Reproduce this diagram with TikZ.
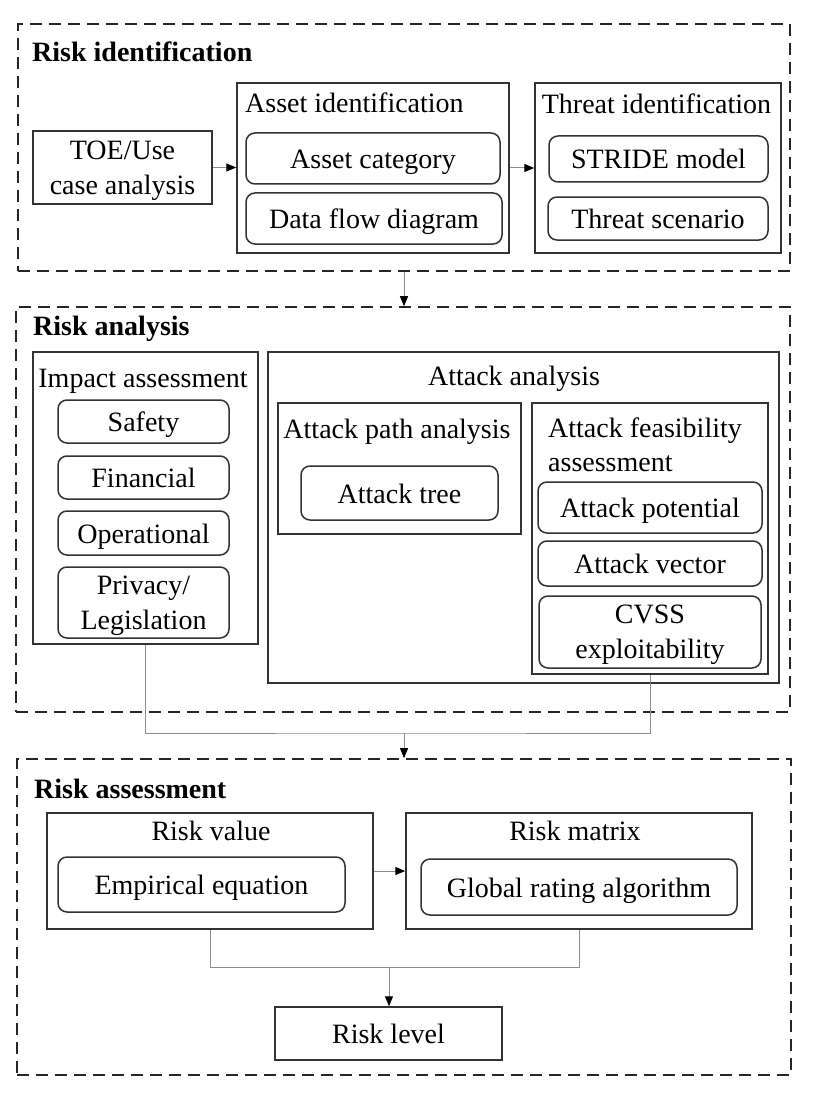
\documentclass[tikz,border=0pt]{standalone}
\usepackage{fontspec}
\setmainfont{Liberation Serif}
\usetikzlibrary{arrows.meta}
\begin{document}
\begin{tikzpicture}[x=1pt,y=-1pt,
  every node/.style={font=\fontsize{28}{35}\selectfont, inner sep=0pt},
  sect/.style={draw=black!85, line width=1.6pt, dash pattern=on 12pt off 7pt},
  cont/.style={draw=black!80, line width=1.5pt, align=center},
  item/.style={draw=black!80, line width=1.5pt, rounded corners=9pt, align=center},
  one/.style={text height=20pt, text depth=0pt},
  two/.style={text depth=0pt},
  ttl/.style={font=\fontsize{28}{35}\selectfont\bfseries, anchor=base west},
  lbl/.style={anchor=base},
  lblw/.style={anchor=base west},
  conn/.style={draw=black!45, line width=1pt},
  arr/.style={conn, -{Triangle[length=10pt,width=8pt,color=black]}}
]
\fill[white] (0,0) rectangle (826,1094);
\useasboundingbox (0,0) rectangle (826,1094);

% ---------- Section 1 ----------
\node[sect, minimum width=772pt, minimum height=247pt] (s1) at (404,147.5) {};
\node[ttl] (t1) at (32,62) {Risk identification};
\node[cont, two, minimum width=179pt, minimum height=73pt] (toe) at (122.5,167.5) {TOE/Use\\case analysis};
\node[cont, minimum width=272pt, minimum height=170pt] (asset) at (373,168) {};
\node[lblw] (assett) at (245,113) {Asset identification};
\node[item, one, minimum width=254pt, minimum height=51pt] (acat) at (373,158.5) {Asset category};
\node[item, one, minimum width=256pt, minimum height=51pt] (dfd) at (374,218.5) {Data flow diagram};
\node[cont, minimum width=246pt, minimum height=170pt] (threat) at (658,168) {};
\node[lbl] (threatt) at (656.5,114) {Threat identification};
\node[item, one, minimum width=219pt, minimum height=46pt] (stride) at (658.5,159) {STRIDE model};
\node[item, one, minimum width=220pt, minimum height=43pt] (tscen) at (658,218.5) {Threat scenario};
\draw[arr] (toe.east) -- (asset.west |- toe.east);
\draw[arr] (asset.east) -- (threat.west);

% ---------- Section 2 ----------
\node[sect, minimum width=774pt, minimum height=405pt] (s2) at (403,509.5) {};
\draw[arr] (s1.south) -- (s1.south |- s2.north);
\node[ttl] (t2) at (33,335) {Risk analysis};
\node[cont, minimum width=225pt, minimum height=292pt] (imp) at (145.5,498) {};
\node[lbl] (impt) at (143,387) {Impact assessment};
\node[item, one, minimum width=171pt, minimum height=43pt] (safety) at (143.5,421.5) {Safety};
\node[item, one, minimum width=171pt, minimum height=43pt] (fin) at (143.5,477.5) {Financial};
\node[item, one, minimum width=171pt, minimum height=44pt] (oper) at (143.5,533) {Operational};
\node[item, two, minimum width=171pt, minimum height=71pt] (priv) at (143.5,602.5) {Privacy/\\Legislation};
\node[cont, minimum width=511pt, minimum height=331pt] (att) at (523.5,517.5) {};
\node[lbl] (attt) at (514,385) {Attack analysis};
\node[cont, minimum width=243pt, minimum height=131pt] (apa) at (399.5,468.5) {};
\node[lbl] (apat) at (397,438) {Attack path analysis};
\node[item, one, minimum width=197pt, minimum height=54pt] (atree) at (399.5,493) {Attack tree};
\node[cont, minimum width=236pt, minimum height=271pt] (afa) at (650,538.5) {};
\node[lblw] (afat1) at (548,437) {Attack feasibility};
\node[lblw] (afat2) at (548,471) {assessment};
\node[item, one, minimum width=224pt, minimum height=51pt] (apot) at (650,507.5) {Attack potential};
\node[item, one, minimum width=224pt, minimum height=45pt] (avec) at (650,563.5) {Attack vector};
\node[item, two, minimum width=222pt, minimum height=72pt] (cvss) at (650,632) {CVSS\\exploitability};
\coordinate (j1) at (404,733);
\draw[conn] (imp.south) |- (j1) -| (afa.south);

% ---------- Section 3 ----------
\node[sect, minimum width=774pt, minimum height=316pt] (s3) at (404,917) {};
\draw[arr] (j1) -- (j1 |- s3.north);
\node[ttl] (t3) at (34,798) {Risk assessment};
\node[cont, minimum width=326pt, minimum height=116pt] (rv) at (210,871) {};
\node[lbl] (rvt) at (211,840) {Risk value};
\node[item, one, minimum width=287pt, minimum height=55pt] (emp) at (201.5,884.5) {Empirical equation};
\node[cont, minimum width=346pt, minimum height=116pt] (rm) at (579,871) {};
\node[lbl] (rmt) at (575,840) {Risk matrix};
\node[item, one, minimum width=316pt, minimum height=56pt] (gra) at (579,887) {Global rating algorithm};
\draw[arr] (rv.east) -- (rm.west);
\node[cont, one, minimum width=227pt, minimum height=53pt] (rl) at (388.5,1033.5) {Risk level};
\coordinate (j2) at (389,967);
\draw[conn] (rv.south) |- (j2) -| (rm.south);
\draw[arr] (j2) -- (j2 |- rl.north);
\end{tikzpicture}
\end{document}
